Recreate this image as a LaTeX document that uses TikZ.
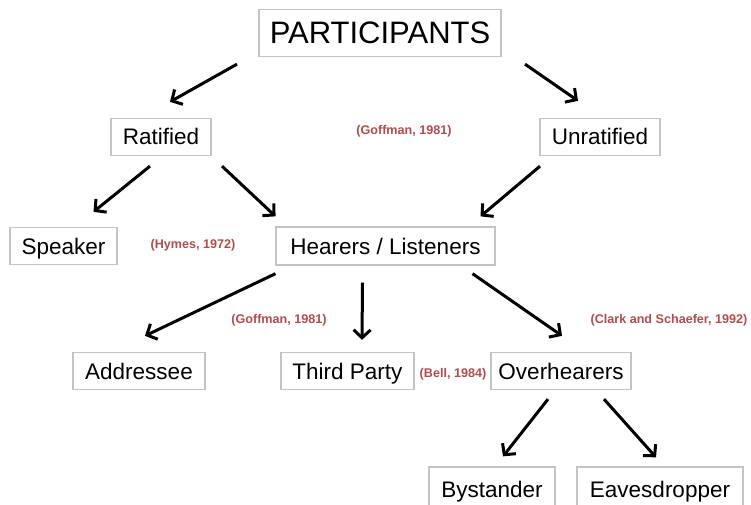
\documentclass[tikz,border=0pt]{standalone}
\usepackage{fontspec}
\setmainfont{Liberation Sans}
\usetikzlibrary{arrows.meta,calc}
\definecolor{boxline}{RGB}{196,196,196}
\definecolor{citered}{RGB}{178,76,76}
\begin{document}
\begin{tikzpicture}[x=1pt,y=-1pt,
  box/.style={draw=boxline,line width=1.3pt,fill=white,inner sep=0pt,
    text height=16pt,text depth=0pt,
    minimum height=37pt,font=\fontsize{22.5}{22.5}\selectfont},
  cite/.style={text=citered,font=\bfseries\fontsize{12.6}{12.6}\selectfont,inner sep=0pt},
  link/.style={line width=3pt,-{Straight Barb[length=8pt,width=17pt,line width=3pt]}}]
\useasboundingbox (0,0) rectangle (751,505);
\begin{scope}
\clip (0,0) rectangle (751,505);
% boxes
\node[box,minimum width=242pt,minimum height=47pt,text height=22pt,font=\fontsize{31}{31}\selectfont] (part) at (380,33) {PARTICIPANTS};
\node[box,minimum width=100pt] (rat) at (161,137) {Ratified};
\node[box,minimum width=120pt] (unrat) at (600,137) {Unratified};
\node[box,minimum width=107pt] (spk) at (63.5,246) {Speaker};
\node[box,minimum width=219pt,minimum height=38pt] (hear) at (385.5,246) {Hearers / Listeners};
\node[box,minimum width=132pt] (addr) at (139,371) {Addressee};
\node[box,minimum width=133pt] (third) at (347.5,371) {Third Party};
\node[box,minimum width=140pt] (over) at (561,371) {Overhearers};
\node[box,minimum width=126pt,minimum height=44pt] (bys) at (492,489) {Bystander};
\node[box,minimum width=166pt,minimum height=44pt] (eaves) at (660,489) {Eavesdropper};
\end{scope}
% citations
\node[cite] (c1) at (404,131) {(Goffman, 1981)};
\node[cite] (c2) at (193,245) {(Hymes, 1972)};
\node[cite] (c3) at (279,320) {(Goffman, 1981)};
\node[cite] (c4) at (669,320) {(Clark and Schaefer, 1992)};
\node[cite] (c5) at (453,374) {(Bell, 1984)};
% arrows
\draw[link] ($(part.south)+(-143,7)$) -- ($(rat.north)+(9,-16)$);
\draw[link] ($(part.south)+(145,7)$) -- ($(unrat.north)+(-22,-17)$);
\draw[link] ($(rat.south)+(-11,10)$) -- ($(spk.north)+(30,-15)$);
\draw[link] ($(rat.south)+(61,10)$) -- ($(hear.north)+(-110,-10)$);
\draw[link] ($(unrat.south)+(-60,10)$) -- ($(hear.north)+(95,-10)$);
\draw[link] ($(hear.south)+(-110,8)$) -- ($(addr.north)+(6,-16)$);
\draw[link] ($(hear.south)+(-23,17)$) -- ($(third.north)+(14.5,-12)$);
\draw[link] ($(hear.south)+(87,8)$) -- ($(over.north)+(1,-16)$);
\draw[link] ($(over.south)+(-13,9)$) -- ($(bys.north)+(11,-10)$);
\draw[link] ($(over.south)+(43,9)$) -- ($(eaves.north)+(-4,-9)$);
\end{tikzpicture}
\end{document}
